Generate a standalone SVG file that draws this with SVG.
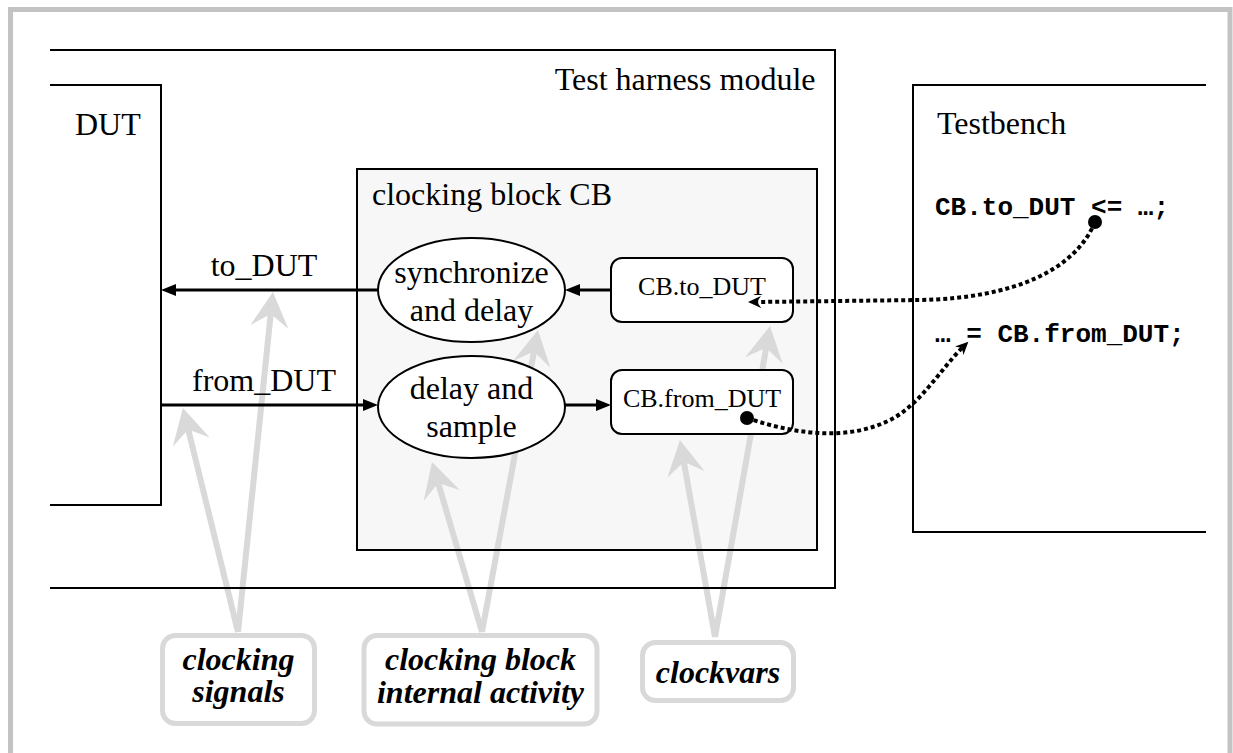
<svg xmlns="http://www.w3.org/2000/svg" xmlns:xlink="http://www.w3.org/1999/xlink" width="1233" height="753" viewBox="0 0 1233 753">
  <style>
    .frame { fill: none; stroke: #000; stroke-width: 2; }
    .txt { font-family: "Liberation Serif", "Times New Roman", serif; font-size: 32px; fill: #000; }
    .small { font-size: 26px; }
    .mid { text-anchor: middle; }
    .note { font-family: "Liberation Serif", "Times New Roman", serif; font-size: 32px; font-weight: bold; font-style: italic; text-anchor: middle; fill: #000; }
    .code { font-family: "Liberation Mono", "Courier New", monospace; font-size: 26px; font-weight: bold; fill: #000; }
    .node { fill: #fff; stroke: #000; stroke-width: 2; }
    .wire { fill: none; stroke: #000; stroke-width: 3; marker-end: url(#arrow); }
    .ref { fill: none; stroke: #000; stroke-width: 4; stroke-dasharray: 4 3; marker-end: url(#dotarrow); }
    .hint { fill: none; stroke: #d9d9d9; stroke-width: 6; marker-end: url(#hintarrow); }
    .hintbox { fill: #fff; stroke: #d9d9d9; stroke-width: 5; }
  </style>
  <defs>
    <marker id="arrow" viewBox="0 -7 16 14" refX="3" refY="0" markerWidth="16" markerHeight="14" markerUnits="userSpaceOnUse" orient="auto">
      <path d="M0,-6 L15,0 L0,6 Z" fill="#000"/>
    </marker>
    <marker id="dotarrow" viewBox="0 -7 14 14" refX="4" refY="0" markerWidth="14" markerHeight="14" markerUnits="userSpaceOnUse" orient="auto">
      <path d="M0,-6 L13,0 L0,6 L4,0 Z" fill="#000"/>
    </marker>
    <marker id="hintarrow" viewBox="0 -20 36 40" refX="13" refY="0" markerWidth="36" markerHeight="40" markerUnits="userSpaceOnUse" orient="auto">
      <path d="M0,-19 L35,0 L0,19 L13,0 Z" fill="#d9d9d9"/>
    </marker>
  </defs>

  <rect x="0" y="0" width="1233" height="753" fill="#fff"/>
  <!-- page border -->
  <rect x="10.5" y="9.5" width="1219.5" height="800" fill="none" stroke="#c3c3c3" stroke-width="5"/>

  <!-- containers -->
  <g id="harness">
    <path id="harness-outline" class="frame" d="M50,50 H835 V588 H50"/>
    <text class="txt" x="815.5" y="90" text-anchor="end">Test harness module</text>
  </g>
  <g id="dut">
    <path class="frame" d="M50,85 H161 V505 H50"/>
    <text class="txt" x="75" y="135">DUT</text>
  </g>
  <g id="testbench">
    <path class="frame" d="M1206,85 H913 V532 H1206"/>
    <text class="txt" x="937" y="134">Testbench</text>
    <text class="code" x="935" y="215">CB.to_DUT &lt;= …;</text>
    <text class="code" x="935" y="342">… = CB.from_DUT;</text>
  </g>
  <g id="clocking-block">
    <rect x="357" y="169" width="460" height="381" fill="#f7f7f7"/>
    <rect id="cb-outline" class="frame" x="357" y="169" width="460" height="381"/>
    <text class="txt" x="372" y="205">clocking block CB</text>
  </g>

  <!-- annotation pointers -->
  <g id="hints">
    <path class="hint" d="M238,632 L188.2,429.4"/>
    <path class="hint" d="M238,632 L270.7,313.9"/>
    <path class="hint" d="M482,632 L438.2,483.1"/>
    <path class="hint" d="M482,632 L534,351.6"/>
    <path class="hint" d="M715,637 L683.8,461.7"/>
    <path class="hint" d="M715,637 L766.2,347.7"/>
  </g>
  <!-- container edges stay above the pointers -->
  <g id="outline-overlay">
    <use xlink:href="#harness-outline" href="#harness-outline"/>
    <use xlink:href="#cb-outline" href="#cb-outline"/>
  </g>

  <g id="note-signals">
    <rect class="hintbox" x="162.5" y="635.5" width="152" height="88" rx="13"/>
    <text class="note" x="238.5" y="670">clocking</text>
    <text class="note" x="238.5" y="702">signals</text>
  </g>
  <g id="note-activity">
    <rect class="hintbox" x="364" y="635.5" width="233" height="88.5" rx="13"/>
    <text class="note" x="480.5" y="670">clocking block</text>
    <text class="note" x="480.5" y="703">internal activity</text>
  </g>
  <g id="note-clockvars">
    <rect class="hintbox" x="642.5" y="642.5" width="151" height="58" rx="13"/>
    <text class="note" x="718" y="683">clockvars</text>
  </g>

  <!-- clocking block internals -->
  <g id="sync-delay">
    <ellipse class="node" cx="471.5" cy="290" rx="93.5" ry="52"/>
    <text class="txt mid" x="471.5" y="283">synchronize</text>
    <text class="txt mid" x="471.5" y="321">and delay</text>
  </g>
  <g id="delay-sample">
    <ellipse class="node" cx="471.5" cy="407" rx="93.5" ry="51"/>
    <text class="txt mid" x="471.5" y="399">delay and</text>
    <text class="txt mid" x="471.5" y="437">sample</text>
  </g>
  <g id="cb-to-dut">
    <rect class="node" x="611" y="258" width="182" height="64" rx="11"/>
    <text class="txt small mid" x="702" y="295">CB.to_DUT</text>
  </g>
  <g id="cb-from-dut">
    <rect class="node" x="611" y="370" width="182" height="64" rx="11"/>
    <text class="txt small mid" x="702" y="407">CB.from_DUT</text>
  </g>

  <!-- signal flow -->
  <g id="connectors">
    <path class="wire" d="M378,290 H173"/>
    <path class="wire" d="M611,290 H577"/>
    <path class="wire" d="M161,405 H366"/>
    <path class="wire" d="M565,405 H599"/>
    <text class="txt mid" x="264" y="276">to_DUT</text>
    <text class="txt mid" x="264" y="391">from_DUT</text>
    <path class="ref" d="M1095,222 C1075,270 1015,298 920,300 L757,302"/>
    <circle cx="1095" cy="222" r="7" fill="#000"/>
    <path class="ref" d="M747,418 C800,436 850,440 890,420 C920,405 940,370 962,348"/>
    <circle cx="747" cy="418" r="7" fill="#000"/>
  </g>
</svg>
